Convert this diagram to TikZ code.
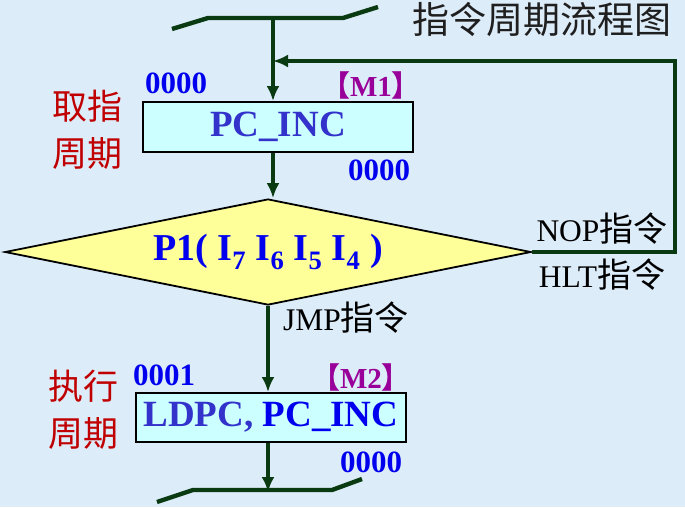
\documentclass[tikz,border=0pt]{standalone}
\usepackage{fontspec}
\setmainfont{Liberation Serif}
\newfontfamily\cjk{Noto Sans CJK SC}
\usetikzlibrary{arrows.meta,positioning,shapes.geometric}
\definecolor{bgblue}{HTML}{DDECF9}
\definecolor{flowgreen}{HTML}{0A3A12}
\definecolor{boxcyan}{HTML}{CCFFFF}
\definecolor{diayellow}{HTML}{FFFF99}
\definecolor{textindigo}{HTML}{3333CC}
\definecolor{addrblue}{HTML}{0000EE}
\definecolor{markpurple}{HTML}{990099}
\definecolor{stagered}{HTML}{C00000}

\tikzset{
  flow/.style={draw=flowgreen,line width=4.4pt},
  procbox/.style={draw=black,line width=2pt,fill=boxcyan,minimum width=270pt,
    inner sep=0pt,font=\fontsize{37}{40}\selectfont\bfseries},
  decision/.style={diamond,draw=black,line width=1.8pt,fill=diayellow,inner sep=0pt,
    aspect=5,minimum width=526pt,minimum height=106pt,
    font=\fontsize{38}{40}\selectfont\bfseries,text=addrblue},
  addr/.style={text=addrblue,inner sep=0pt,font=\fontsize{31}{33}\selectfont\bfseries},
  cyclemark/.style={text=markpurple,inner sep=0pt,font=\fontsize{29}{31}\selectfont\bfseries},
  stage/.style={text=stagered,inner sep=0pt,align=center,font=\fontsize{35}{47}\selectfont\cjk},
  branch/.style={text=black,inner sep=0pt,font=\fontsize{31.5}{34}\selectfont},
}
\newcommand{\zhword}[1]{{\cjk\fontsize{34}{36}\selectfont #1}}

\begin{document}
\begin{tikzpicture}[x=1pt,y=-1pt,>={Latex[length=15pt,width=13pt]}]
\fill[bgblue] (0,0) rectangle (685,507);
\useasboundingbox (0,0) rectangle (685,507);

% top and bottom bus
\coordinate (top) at (273,18);
\draw[flow] (172,29) -- (208,18) -- (343,18) -- (378,7);
\coordinate (bot) at (268,492);
\draw[flow] (157,502) -- (193,490) -- (332,490) -- (362,479);

\node[text=black!88,inner sep=0pt,font=\fontsize{37}{40}\selectfont\cjk] (title) at (542,19) {指令周期流程图};

% fetch cycle
\node[procbox,minimum height=50pt,text=textindigo] (fetch) at (278,127) {PC\_INC};
\node[addr] (a1) at (176,83) {0000};
\node[cyclemark] (m1) at (371,85) {{\cjk 【}M1{\cjk 】}};
\node[addr] (a2) at (379,170) {0000};
\node[stage] (st1) at (87,129.5) {取指\\周期};

% decision
\node[decision] (dec) at (268,252) {P1( I\textsubscript{7} I\textsubscript{6} I\textsubscript{5}\ I\textsubscript{4} )};
\node[branch] (nop) at (602,229) {NOP\zhword{指令}};
\node[branch] (hlt) at (602,275) {HLT\zhword{指令}};
\node[branch] (jmp) at (346,318) {JMP\zhword{指令}};

% execute cycle
\node[procbox,minimum height=49pt,text=addrblue] (exec) at (271,417.5) {{\color{textindigo}LDPC,} PC\_INC};
\node[addr] (a3) at (164,375) {0001};
\node[cyclemark] (m2) at (361,377) {{\cjk 【}M2{\cjk 】}};
\node[addr] (a4) at (371,462) {0000};
\node[stage] (st2) at (83,410) {执行\\周期};

% connectors
\coordinate (fbR) at (675,61);
\draw[flow,->] (top) -- (top |- fetch.north);
\draw[flow,->] (top |- fetch.south) -- (top |- dec.north);
\draw[flow,->] (dec.east) -| (fbR) -- (top |- fbR);
\draw[flow,->] (bot |- dec.south) -- (bot |- exec.north);
\draw[flow,->] (bot |- exec.south) -- (bot);
\end{tikzpicture}
\end{document}
